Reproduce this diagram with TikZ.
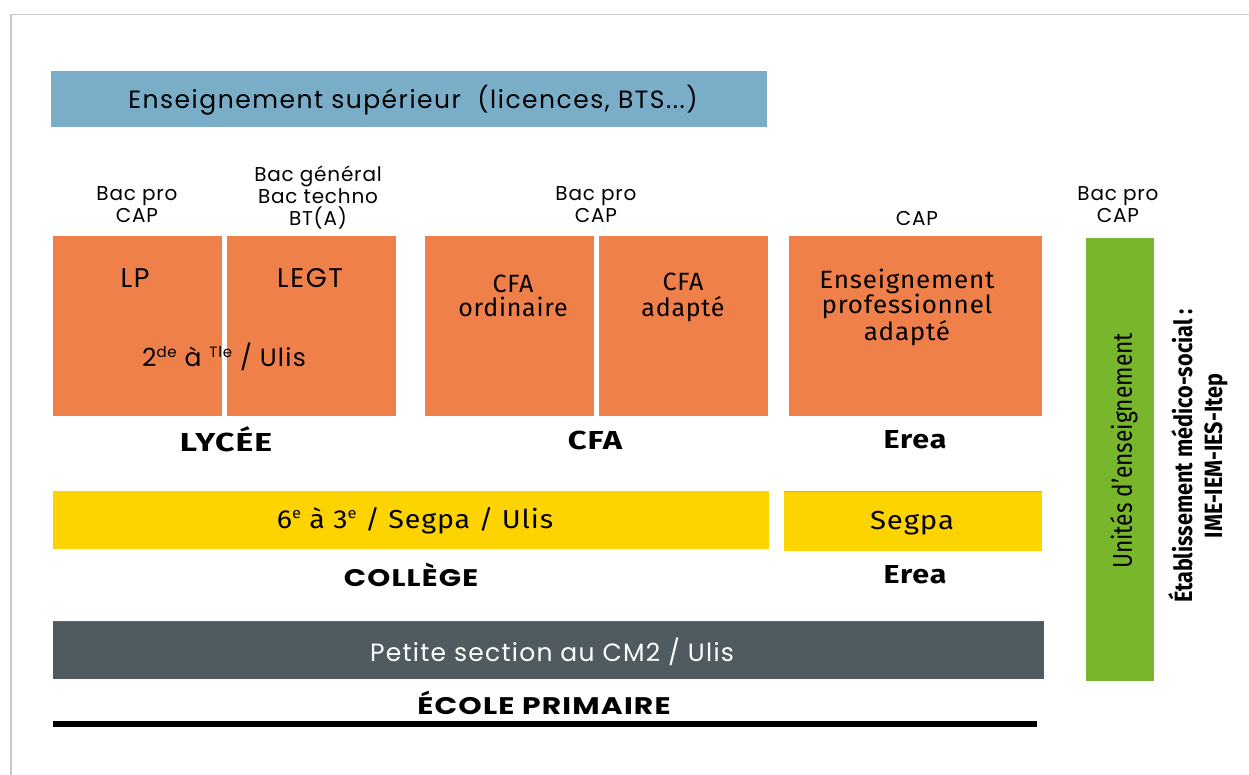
\documentclass[tikz,border=0pt]{standalone}
\usepackage{fontspec}
\usepackage{graphicx}
\setmainfont{Poppins}
\newfontfamily\condfont{Fira Sans}
\definecolor{cblue}{HTML}{7AADC8}
\definecolor{corange}{HTML}{F0804A}
\definecolor{cyellow}{HTML}{FDD300}
\definecolor{cdark}{HTML}{4F5B61}
\definecolor{cgreen}{HTML}{78B72B}
\definecolor{cframe}{HTML}{C8C8C8}
\newcommand{\mysup}[1]{\raisebox{0.38em}{\fontsize{15}{15}\selectfont #1}}
\begin{document}
\begin{tikzpicture}[x=1pt,y=-1pt,
  blk/.style={anchor=north west, inner sep=0pt, outer sep=0pt, draw=none},
  small/.style={font=\fontsize{20}{22}\selectfont\addfontfeature{LetterSpace=4}, align=center, inner sep=0pt},
  big/.style={font=\fontsize{25}{24}\selectfont\addfontfeature{LetterSpace=5}, align=center, inner sep=0pt},
  din/.style={font=\condfont\fontsize{25}{24}\selectfont\addfontfeature{LetterSpace=3}, align=center, inner sep=0pt},
  dinbold/.style={font=\condfont\bfseries\fontsize{26}{24}\selectfont\addfontfeature{LetterSpace=3}, inner sep=0pt},
  titlecaps/.style={font=\fontsize{24}{24}\selectfont\bfseries\addfontfeature{LetterSpace=4}, inner sep=0pt}]
\useasboundingbox (0,0) rectangle (1249,774);
\fill[white] (0,0) rectangle (1249,774);
% frame
\draw[cframe, line width=1.5pt] (11,800) -- (11,14.5) -- (1260,14.5);
% top blue
\node[blk, fill=cblue, minimum width=716pt, minimum height=56pt] (sup) at (51,71) {};
\node[big, font=\fontsize{25}{24}\selectfont\addfontfeature{LetterSpace=6}] (suptxt) at (413,100) {Enseignement supérieur\ \ (licences, BTS...)};
% orange boxes
\node[blk, fill=corange, minimum width=169pt, minimum height=180pt] (lp) at (53,236) {};
\node[blk, fill=corange, minimum width=169pt, minimum height=180pt] (legt) at (227,236) {};
\node[blk, fill=corange, minimum width=169pt, minimum height=180pt] (cfao) at (425,236) {};
\node[blk, fill=corange, minimum width=169pt, minimum height=180pt] (cfaa) at (599,236) {};
\node[blk, fill=corange, minimum width=253pt, minimum height=180pt] (epa) at (789,236) {};
% labels above
\node[small] (l1) at (137,205) {Bac pro\\CAP};
\node[small] (l2) at (318,198) {Bac général\\Bac techno\\BT(A)};
\node[small] (l3) at (596,205) {Bac pro\\CAP};
\node[small] (l4) at (917,218) {CAP};
\node[small] (l5) at (1118,205) {Bac pro\\CAP};
% texts in orange
\node[big, font=\fontsize{27}{24}\selectfont\addfontfeature{LetterSpace=6}] (tlp) at (135,278) {LP};
\node[big, font=\fontsize{27}{24}\selectfont\addfontfeature{LetterSpace=6}] (tlegt) at (310,278) {LEGT};
\node[big] (tulis) at (224,357) {2\mysup{de} à \mysup{Tle} / Ulis};
\node[din] (tcfao) at (513,296) {CFA\\ordinaire};
\node[din, font=\condfont\fontsize{25}{26}\selectfont\addfontfeature{LetterSpace=3}] (tcfaa) at (683,297) {CFA\\adapté};
\node[din, font=\condfont\fontsize{25}{23}\selectfont\addfontfeature{LetterSpace=3}] (tepa) at (907,307) {\scalebox{1.04}[1]{Enseignement}\\\scalebox{1.04}[1]{professionnel}\\\scalebox{1.04}[1]{adapté}};
% level titles
\node[dinbold] (lycee) at (226,439) {\scalebox{1.3}[1]{LYCÉE}};
\node[dinbold] (cfa) at (595,440) {\scalebox{1.26}[1]{CFA}};
\node[dinbold] (erea1) at (915,440) {\scalebox{1.17}[1]{Erea}};
% yellow
\node[blk, fill=cyellow, minimum width=716pt, minimum height=58pt] (col) at (53,491) {};
\node[blk, fill=cyellow, minimum width=258pt, minimum height=60pt] (seg) at (784,491) {};
\draw[color={rgb,255:red,245;green,168;blue,0}, line width=1pt] (seg.north west) -- (seg.north east);
\node[din, font=\condfont\fontsize{26}{24}\selectfont\addfontfeature{LetterSpace=3}] (tcol) at (415,521) {\scalebox{1.1}[1]{6\mysup{e} à 3\mysup{e} / Segpa / Ulis}};
\node[din, font=\condfont\fontsize{26}{24}\selectfont\addfontfeature{LetterSpace=3}] (tseg) at (912,523) {\scalebox{1.13}[1]{Segpa}};
\node[titlecaps] (college) at (411,575) {\scalebox{1.22}[1]{COLLÈGE}};
\node[dinbold] (erea2) at (915,575) {\scalebox{1.17}[1]{Erea}};
% primary
\node[blk, fill=cdark, minimum width=991pt, minimum height=58pt] (prim) at (53,621) {};
\draw[color={rgb,255:red,120;green,80;blue,140}, line width=0.8pt] (prim.north west) -- (prim.north east);
\node[big, text=white] (tprim) at (552,652) {Petite section au CM2 / Ulis};
\node[titlecaps] (ecole) at (544,703) {\scalebox{1.24}[1]{ÉCOLE PRIMAIRE}};
\coordinate (ls) at (53,724);
\coordinate (le) at (1037,724);
\draw[black, line width=5.5pt] (ls) -- (le);
% green
\node[blk, fill=cgreen, minimum width=68pt, minimum height=443pt] (ue) at (1086,238) {};
\node[rotate=90, inner sep=0pt, font=\condfont\fontsize{27}{28}\selectfont] (tue) at (1124,451) {\scalebox{0.84}[1]{Unités d’enseignement}};
\node[rotate=90, inner sep=0pt, align=center, font=\condfont\bfseries\fontsize{25}{30}\selectfont] (tems) at (1198,456) {\scalebox{0.865}[1]{Établissement médico-social :}\\\scalebox{0.865}[1]{IME-IEM-IES-Itep}};
\end{tikzpicture}
\end{document}
